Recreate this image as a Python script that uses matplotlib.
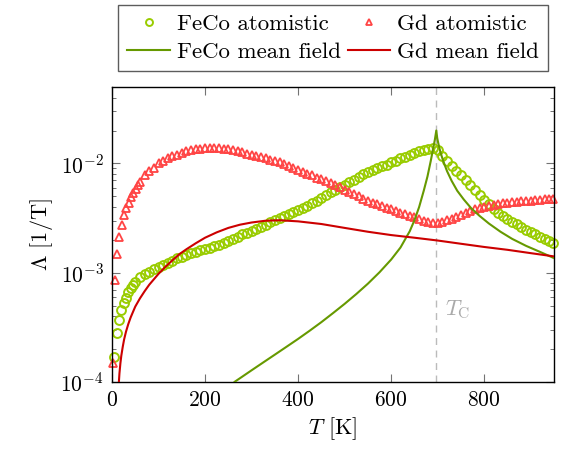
import numpy as np
import matplotlib
matplotlib.use("Agg")
import matplotlib.pyplot as plt
from matplotlib.ticker import LogLocator, NullFormatter, FixedLocator

plt.rcParams['font.family'] = ['cmr10', 'DejaVu Serif']
plt.rcParams['mathtext.fontset'] = 'cm'
plt.rcParams['axes.formatter.use_mathtext'] = True

# ---------------- data ----------------
T_c = 697

T_feco_at = [5, 10, 15, 20, 25, 30, 35, 40, 45, 50,
             60, 70, 80, 90, 100, 110, 120, 130, 140, 150,
             160, 170, 180, 190, 200, 210, 220, 230, 240, 250,
             260, 270, 280, 290, 300, 310, 320, 330, 340, 350,
             360, 370, 380, 390, 400, 410, 420, 430, 440, 450,
             460, 470, 480, 490, 500, 510, 520, 530, 540, 550,
             560, 570, 580, 590, 600, 610, 620, 630, 640, 650,
             660, 670, 680, 690, 700, 710, 720, 730, 740, 750,
             760, 770, 780, 790, 800, 810, 820, 830, 840, 850,
             860, 870, 880, 890, 900, 910, 920, 930, 940, 948]
L_feco_at = [1.70e-4, 2.82e-4, 3.72e-4, 4.57e-4, 5.25e-4, 5.89e-4, 6.6e-4, 7.24e-4, 7.76e-4, 8.3e-4,
             9.1e-4, 9.8e-4, 1.02e-3, 1.07e-3, 1.12e-3, 1.17e-3, 1.23e-3, 1.29e-3, 1.35e-3, 1.40e-3,
             1.45e-3, 1.51e-3, 1.55e-3, 1.60e-3, 1.66e-3, 1.70e-3, 1.74e-3, 1.80e-3, 1.88e-3, 1.95e-3,
             2.04e-3, 2.14e-3, 2.24e-3, 2.32e-3, 2.40e-3, 2.51e-3, 2.60e-3, 2.75e-3, 2.88e-3, 3.02e-3,
             3.16e-3, 3.31e-3, 3.47e-3, 3.59e-3, 3.72e-3, 3.89e-3, 4.07e-3, 4.32e-3, 4.57e-3, 4.84e-3,
             5.13e-3, 5.43e-3, 5.69e-3, 6.03e-3, 6.31e-3, 6.76e-3, 7.08e-3, 7.59e-3, 7.94e-3, 8.32e-3,
             8.71e-3, 9.02e-3, 9.44e-3, 9.77e-3, 1.02e-2, 1.06e-2, 1.11e-2, 1.15e-2, 1.20e-2, 1.24e-2,
             1.29e-2, 1.33e-2, 1.36e-2, 1.38e-2, 1.32e-2, 1.17e-2, 1.06e-2, 9.55e-3, 8.51e-3, 7.76e-3,
             7.0e-3, 6.31e-3, 5.69e-3, 5.13e-3, 4.62e-3, 4.22e-3, 3.85e-3, 3.55e-3, 3.31e-3, 3.09e-3,
             2.92e-3, 2.79e-3, 2.63e-3, 2.48e-3, 2.34e-3, 2.24e-3, 2.14e-3, 2.04e-3, 1.93e-3, 1.86e-3]

T_gd_at = [2, 6, 11, 16, 21, 26, 31, 36, 41, 46, 51, 56,
           60, 70, 80, 90, 100, 110, 120, 130, 140, 150,
           160, 170, 180, 190, 200, 210, 220, 230, 240, 250,
           260, 270, 280, 290, 300, 310, 320, 330, 340, 350,
           360, 370, 380, 390, 400, 410, 420, 430, 440, 450,
           460, 470, 480, 490, 500, 510, 520, 530, 540, 550,
           560, 570, 580, 590, 600, 610, 620, 630, 640, 650,
           660, 670, 680, 690, 700, 710, 720, 730, 740, 750,
           760, 770, 780, 790, 800, 810, 820, 830, 840, 850,
           860, 870, 880, 890, 900, 910, 920, 930, 940, 948]
L_gd_at = [1.48e-4, 8.5e-4, 1.48e-3, 2.14e-3, 2.75e-3, 3.39e-3, 3.89e-3, 4.37e-3, 4.9e-3, 5.37e-3, 5.89e-3, 6.31e-3,
           6.76e-3, 7.76e-3, 8.51e-3, 9.12e-3, 1.0e-2, 1.06e-2, 1.11e-2, 1.16e-2, 1.20e-2, 1.24e-2,
           1.29e-2, 1.32e-2, 1.35e-2, 1.36e-2, 1.38e-2, 1.38e-2, 1.38e-2, 1.37e-2, 1.36e-2, 1.35e-2,
           1.32e-2, 1.29e-2, 1.26e-2, 1.23e-2, 1.20e-2, 1.17e-2, 1.15e-2, 1.11e-2, 1.08e-2, 1.06e-2,
           1.02e-2, 9.89e-3, 9.55e-3, 9.12e-3, 8.71e-3, 8.32e-3, 8.04e-3, 7.76e-3, 7.41e-3, 7.16e-3,
           6.92e-3, 6.61e-3, 6.31e-3, 6.03e-3, 5.75e-3, 5.50e-3, 5.25e-3, 5.01e-3, 4.73e-3, 4.52e-3,
           4.37e-3, 4.22e-3, 4.07e-3, 3.94e-3, 3.80e-3, 3.67e-3, 3.55e-3, 3.43e-3, 3.31e-3, 3.20e-3,
           3.09e-3, 2.99e-3, 2.92e-3, 2.85e-3, 2.85e-3, 2.92e-3, 3.02e-3, 3.13e-3, 3.24e-3, 3.39e-3,
           3.55e-3, 3.67e-3, 3.80e-3, 3.89e-3, 3.98e-3, 4.07e-3, 4.17e-3, 4.27e-3, 4.32e-3, 4.37e-3,
           4.42e-3, 4.47e-3, 4.52e-3, 4.57e-3, 4.57e-3, 4.62e-3, 4.62e-3, 4.68e-3, 4.68e-3, 4.73e-3]

T_feco_mf = [255, 263, 280, 300, 325, 350, 375, 400, 425, 450, 475, 500, 525, 550, 575, 600,
             620, 640, 650, 660, 670, 678, 685, 690, 694, 697,
             699, 702, 706, 712, 720, 730, 742, 756, 772, 790, 810, 835, 860, 890, 920, 950]
L_feco_mf = [8.9e-5, 1.0e-4, 1.12e-4, 1.28e-4, 1.51e-4, 1.78e-4, 2.10e-4, 2.48e-4, 2.95e-4, 3.53e-4,
             4.27e-4, 5.19e-4, 6.38e-4, 7.94e-4, 1.01e-3, 1.32e-3,
             1.70e-3, 2.40e-3, 3.02e-3, 3.98e-3, 5.62e-3, 7.59e-3, 1.05e-2, 1.35e-2, 1.66e-2, 2.0e-2,
             1.70e-2, 1.48e-2, 1.26e-2, 1.05e-2, 8.51e-3, 6.92e-3, 5.62e-3, 4.68e-3, 3.89e-3, 3.31e-3,
             2.82e-3, 2.37e-3, 2.04e-3, 1.76e-3, 1.55e-3, 1.36e-3]

T_gd_mf = [14, 16, 18, 20, 23, 26, 30, 35, 40, 45, 50, 60, 70, 80, 90, 100, 115, 130, 145, 160,
           180, 200, 225, 250, 275, 300, 330, 360, 400, 450, 500, 550, 600, 650, 700, 750,
           800, 850, 900, 950]
L_gd_mf = [8.9e-5, 1.20e-4, 1.48e-4, 1.74e-4, 2.09e-4, 2.45e-4, 2.88e-4, 3.39e-4, 3.89e-4, 4.37e-4,
           4.90e-4, 5.82e-4, 6.76e-4, 7.76e-4, 8.71e-4, 9.77e-4, 1.135e-3, 1.30e-3, 1.48e-3, 1.64e-3,
           1.86e-3, 2.09e-3, 2.34e-3, 2.57e-3, 2.75e-3, 2.88e-3, 2.99e-3, 3.02e-3, 2.95e-3, 2.79e-3,
           2.57e-3, 2.37e-3, 2.21e-3, 2.09e-3, 1.97e-3, 1.84e-3, 1.72e-3, 1.62e-3, 1.51e-3, 1.41e-3]

x_ticks = [0, 200, 400, 600, 800]

# ---------------- plot ----------------
c_feco_at = '#99cc00'
c_gd_at = '#ff4444'
c_feco_mf = '#669900'
c_gd_mf = '#cc0000'

fig = plt.figure(figsize=(5.62, 4.49), dpi=100)
ax = fig.add_axes([0.1993, 0.1492, 0.7865, 0.657])

ax.axvline(T_c, color='#bbbbbb', lw=1.0, ls=(0, (5, 4)), zorder=1)

h1, = ax.plot(T_feco_at, L_feco_at, ls='none', marker='o', ms=6.4, mfc='none',
              mec=c_feco_at, mew=1.4, label='FeCo atomistic', zorder=2, clip_on=False)
h2, = ax.plot(T_gd_at, L_gd_at, ls='none', marker='^', ms=5.6, mfc='none',
              mec=c_gd_at, mew=1.3, label='Gd atomistic', zorder=2, clip_on=False)
h3, = ax.plot(T_feco_mf, L_feco_mf, color=c_feco_mf, lw=1.5, label='FeCo mean field', zorder=3)
h4, = ax.plot(T_gd_mf, L_gd_mf, color=c_gd_mf, lw=1.5, label='Gd mean field', zorder=3)

ax.set_yscale('log')
ax.set_xlim(0, 950)
ax.set_ylim(1e-4, 5e-2)
ax.xaxis.set_major_locator(FixedLocator(x_ticks))
ax.yaxis.set_major_locator(LogLocator(base=10, numticks=10))
ax.yaxis.set_minor_locator(LogLocator(base=10, subs=np.arange(2, 10), numticks=20))
ax.yaxis.set_minor_formatter(NullFormatter())

ax.tick_params(which='both', direction='in', top=True, right=True,
               color='0.45', labelsize=15.5, pad=6)
ax.tick_params(which='major', length=5.5, width=0.8)
ax.tick_params(which='minor', length=3.2, width=0.7)
for s in ax.spines.values():
    s.set_linewidth(1.0)

ax.set_xlabel(r'$T$ [K]', fontsize=16, labelpad=4)
ax.set_ylabel(r'$\Lambda$ [1/T]', fontsize=16, labelpad=4)

ax.text(716, 4.6e-4, r'$T_\mathrm{C}$', color='#aaaaaa', fontsize=16,
        va='center', ha='left')

leg = ax.legend([h1, h3, h2, h4],
                ['FeCo atomistic', 'FeCo mean field', 'Gd atomistic', 'Gd mean field'],
                loc='lower center', bbox_to_anchor=(0.5, 1.054), ncol=2,
                fontsize=16.5, frameon=True, fancybox=False, edgecolor='0.2',
                handlelength=1.85, handletextpad=0.3, columnspacing=0.3,
                borderpad=0.4, labelspacing=0.35, borderaxespad=0.0)
leg.get_frame().set_linewidth(1.0)
for h in leg.legend_handles:
    try:
        h.set_markersize(5.0)
    except Exception:
        pass

fig.savefig('out.png', dpi=100)
